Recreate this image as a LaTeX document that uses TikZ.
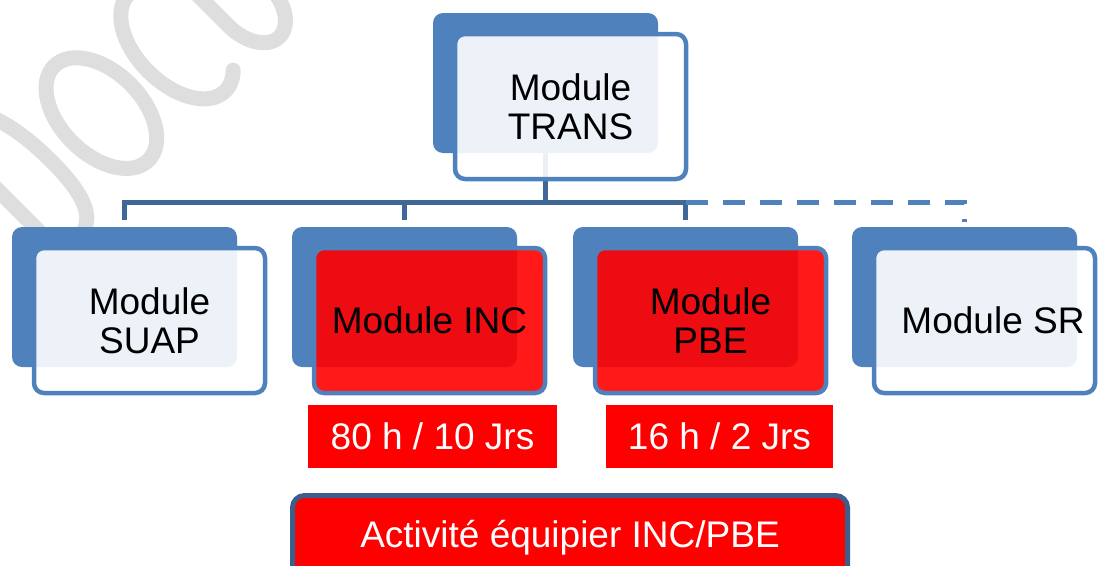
\documentclass[tikz,border=0pt]{standalone}
\usepackage{fontspec}
\setmainfont{Liberation Sans}
\definecolor{bk}{HTML}{4F81BD}
\definecolor{cn}{HTML}{3F6797}
\definecolor{ab}{HTML}{3B5E8C}
\definecolor{wm}{HTML}{DEDEDE}
\definecolor{rd}{HTML}{FF0000}
\newcommand\modfont{\fontsize{37}{39}\selectfont}
\begin{document}
\begin{tikzpicture}[x=1pt,y=-1pt,
  backbox/.style={draw=none, fill=bk, rounded corners=10pt, minimum width=225pt, minimum height=140pt, inner sep=0pt},
  frontbox/.style={draw=bk, line width=4.5pt, rounded corners=10pt, fill opacity=0.9, text opacity=1, minimum width=231pt, minimum height=145pt, inner sep=0pt, align=center, font=\modfont},
  whitebox/.style={frontbox, fill=white},
  redbox/.style={frontbox, fill=rd},
  lbl/.style={fill=rd, draw=none, text=white, font=\modfont, inner sep=0pt, minimum height=63pt},
  actbox/.style={fill=rd, draw=ab, line width=5pt, rounded corners=12pt, minimum width=555pt, minimum height=105pt, inner sep=0pt},
  conn/.style={draw=cn, line width=5pt, line join=miter},
  dconn/.style={draw=bk, line width=5pt, line join=miter, dash pattern=on 22pt off 15pt},
  wmark/.style={draw=wm, line width=15pt, line cap=round}
]
\useasboundingbox (0,0) rectangle (1099,565);
\clip (0,0) rectangle (1099,565);
% watermark
\begin{scope}[x=0.3333pt, y=0.3333pt, rotate=45]
  \draw[wmark] (-408,-671) -- (-408,-100);
  \draw[wmark] (-408,-671) -- (-340,-671) .. controls (-255,-671) and (-233,-580) .. (-233,-450) .. controls (-233,-300) and (-265,-180) .. (-340,-140) -- (-408,-140);
  \draw[wmark] (-25,-455) ellipse [x radius=123, y radius=200];
  \draw[wmark] (363.4,-308.9) arc [start angle=50, end angle=300, x radius=122, y radius=205];
  \draw[wmark] (430,-150) -- (430,-540) arc [start angle=180, end angle=360, x radius=85, y radius=131] -- (600,-150);
\end{scope}
% back boxes
\node[backbox] (transB) at (545.5,83) {};
\node[backbox] (suapB) at (124.5,297) {};
\node[backbox] (incB) at (404.5,297) {};
\node[backbox] (pbeB) at (685.5,297) {};
\node[backbox] (srB) at (964.5,297) {};
% connectors
\coordinate (bus) at (0,202);
\draw[conn] ([yshift=7pt]suapB.north) |- (bus -| pbeB.north) -- ([yshift=7pt]pbeB.north);
\draw[conn] (transB.south) -- (transB.south |- bus);
\draw[conn] ([yshift=7pt]incB.north) -- (incB.north |- bus);
\draw[dconn] (bus -| pbeB.north) -| ([yshift=5pt]srB.north);
% front boxes
\node[whitebox] (transF) at (570.5,106.5) {Module\\TRANS};
\node[whitebox] (suapF) at (149.5,320.5) {Module\\SUAP};
\node[redbox] (incF) at (429.5,320.5) {Module INC};
\node[redbox] (pbeF) at (710.5,320.5) {Module\\PBE};
\node[whitebox, minimum width=221pt] (srF) at (984.5,320.5) {};
\node[font=\modfont, inner sep=0pt] (srT) at (993,320.5) {Module SR};
% duration labels
\node[lbl, minimum width=249pt] (incL) at (432.5,436.5) {80 h / 10 Jrs};
\node[lbl, minimum width=227pt] (pbeL) at (719.5,436.5) {16 h / 2 Jrs};
% activity
\node[actbox] (actB) at (570,548) {};
\node[anchor=base, text=white, font=\modfont, inner sep=0pt] (actT) at (570,547) {Activité équipier INC/PBE};
\end{tikzpicture}
\end{document}
